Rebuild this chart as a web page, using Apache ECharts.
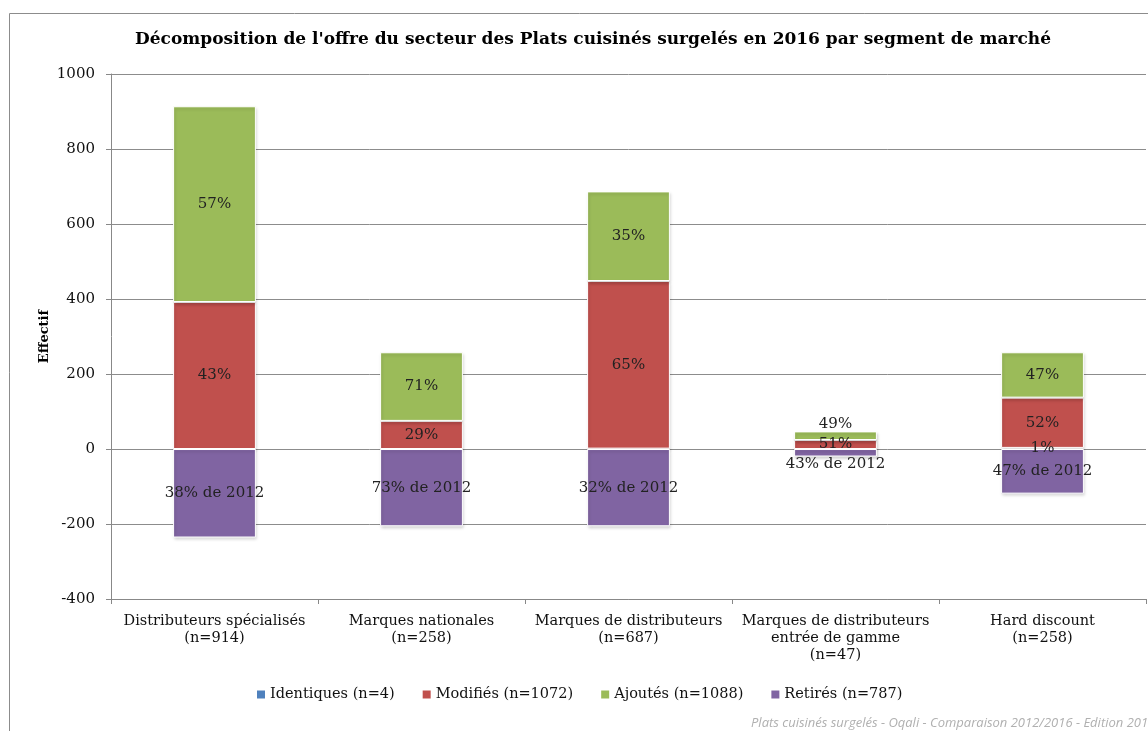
<!DOCTYPE html>
<html><head><meta charset="utf-8">
<script src="https://cdn.jsdelivr.net/npm/echarts@6/dist/echarts.min.js"></script>
<style>html,body{margin:0;padding:0;background:#fff}#c{width:1148px;height:731px}</style>
</head><body><div id="c"></div>
<script>
var categories = ["Distributeurs spécialisés\n(n=914)", "Marques nationales\n(n=258)", "Marques de distributeurs\n(n=687)", "Marques de distributeurs\nentrée de gamme\n(n=47)", "Hard discount\n(n=258)"];
var totals = [914, 258, 687, 47, 258];
var identiques = [0, 0, 1, 0, 3];
var modifies = [392, 75, 447, 24, 134];
var ajoutes = [522, 183, 239, 23, 121];
var retires = [-236, -206, -206, -20, -119];
var retiresPct2012 = [38, 73, 32, 43, 47];
var yTicks = [-400, -200, 0, 200, 400, 600, 800, 1000];
var legendNames = ["Identiques (n=4)", "Modifiés (n=1072)", "Ajoutés (n=1088)", "Retirés (n=787)"];

var FONT = "DejaVu Serif";
var colors = ["#4F81BD", "#C0504D", "#9BBB59", "#8064A2"];

function pctLabel(p) {
  var v = p.value, n = totals[p.dataIndex];
  var pc = Math.round(v / n * 100);
  return pc > 0 ? pc + '%' : '';
}
var labelBase = {show: true, fontFamily: FONT, fontSize: 15, color: '#222'};
var itemBase = {borderColor: '#fff', borderWidth: 1, shadowBlur: 3, shadowOffsetX: 1, shadowOffsetY: 2, shadowColor: 'rgba(0,0,0,0.18)'};

function mkData(arr, special) {
  return arr.map(function (v, i) {
    var d = {value: v};
    if (special && special[i]) d.label = special[i];
    return d;
  });
}

var chart = echarts.init(document.getElementById('c'));
chart.setOption({
  animation: false,
  color: colors,
  title: {
    text: "Décomposition de l'offre du secteur des Plats cuisinés surgelés en 2016 par segment de marché",
    left: 588, top: 26, textAlign: 'center',
    textStyle: {fontFamily: FONT, fontWeight: 'bold', fontSize: 17, color: '#000'}
  },
  graphic: [
    {type: 'rect', shape: {x: 9.5, y: 13.5, width: 1300, height: 900}, style: {fill: 'none', stroke: '#8c8c8c', lineWidth: 1}, silent: true},
    {type: 'text', left: 751, top: 717, style: {text: 'Plats cuisinés surgelés - Oqali - Comparaison 2012/2016 - Edition 2018', fontFamily: 'Open Sans', fontStyle: 'italic', fontSize: 13, fill: '#b0b0b0'}}
  ],
  legend: {
    bottom: 24, left: 252,
    itemWidth: 8, itemHeight: 8, itemGap: 28,
    icon: 'rect',
    itemStyle: {borderWidth: 0, shadowBlur: 0, shadowOffsetX: 0, shadowOffsetY: 0},
    textStyle: {fontFamily: FONT, fontSize: 14.5, color: '#111'},
    data: legendNames
  },
  grid: {left: 111, right: 2, top: 74, bottom: 132},
  xAxis: [
    {type: 'category', data: categories, position: 'bottom',
      axisLine: {show: false}, axisTick: {show: false},
      axisLabel: {fontFamily: FONT, fontSize: 14.5, color: '#111', lineHeight: 17, margin: 14, interval: 0}},
    {type: 'category', data: categories, position: 'bottom',
      axisLine: {show: true, onZero: true, lineStyle: {color: '#888'}},
      axisTick: {show: true, inside: false, length: 5, lineStyle: {color: '#888'}},
      axisLabel: {show: false}}
  ],
  yAxis: {
    type: 'value', min: yTicks[0], max: yTicks[yTicks.length - 1], interval: 200,
    name: 'Effectif', nameLocation: 'middle', nameGap: 60, nameMoveOverlap: false,
    nameTextStyle: {fontFamily: FONT, fontWeight: 'bold', fontSize: 13, color: '#000'},
    axisLine: {show: true, lineStyle: {color: '#888'}},
    axisTick: {show: true, length: 5, lineStyle: {color: '#888'}},
    axisLabel: {fontFamily: FONT, fontSize: 15, color: '#111', margin: 16, formatter: function (v) { return String(v); }},
    splitLine: {show: true, lineStyle: {color: '#8c8c8c', width: 1}}
  },
  series: [
    {name: legendNames[0], type: 'bar', stack: 's', barWidth: '40%', data: mkData(identiques),
      itemStyle: itemBase, label: Object.assign({}, labelBase, {position: 'inside', formatter: pctLabel})},
    {name: legendNames[1], type: 'bar', stack: 's', data: mkData(modifies),
      itemStyle: itemBase, label: Object.assign({}, labelBase, {position: 'inside', formatter: pctLabel})},
    {name: legendNames[2], type: 'bar', stack: 's', data: mkData(ajoutes, {3: {position: 'top', distance: 0}}),
      itemStyle: itemBase, label: Object.assign({}, labelBase, {position: 'inside', formatter: pctLabel})},
    {name: legendNames[3], type: 'bar', stack: 's', data: mkData(retires, {3: {position: 'bottom', distance: 0}}),
      itemStyle: itemBase, label: Object.assign({}, labelBase, {position: 'inside', formatter: function (p) { return retiresPct2012[p.dataIndex] + '% de 2012'; }})}
  ]
});
</script></body></html>
